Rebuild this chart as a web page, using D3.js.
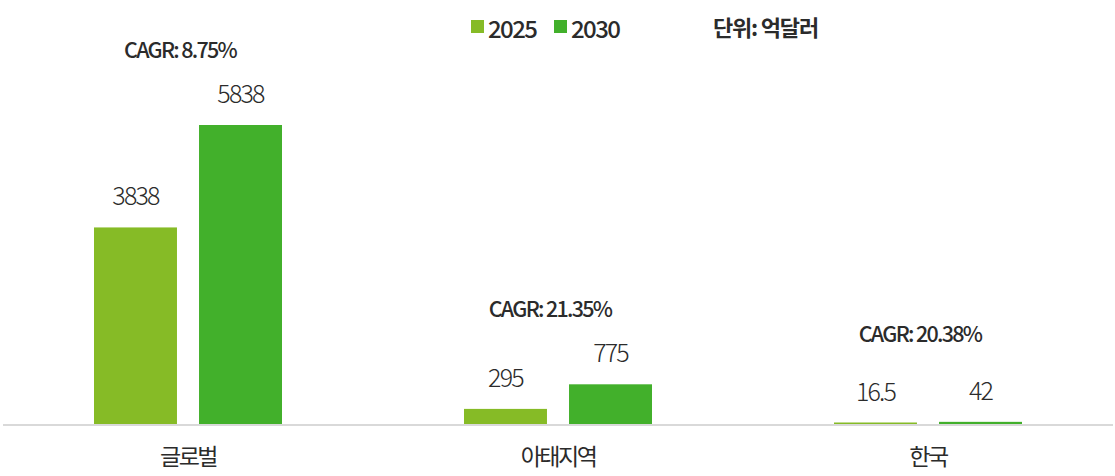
<!DOCTYPE html>
<html>
<head>
<meta charset="utf-8">
<script src="https://cdn.jsdelivr.net/npm/d3@7"></script>
<style>
  body { margin: 0; background: #fff; }
  svg text { font-family: "Noto Sans CJK KR", "Noto Sans", sans-serif; fill: #2b2b2b; }
</style>
</head>
<body>
<svg id="chart"></svg>
<script>
const categories = ["글로벌", "아태지역", "한국"];
const seriesNames = ["2025", "2030"];
const values2025 = [3838, 295, 16.5];
const values2030 = [5838, 775, 42];
const cagrLabels = ["CAGR: 8.75%", "CAGR: 21.35%", "CAGR: 20.38%"];
const unitLabel = "단위: 억달러";
const colors = ["#86bb26", "#42b02b"];

const WIDTH = 1115, HEIGHT = 476;
const MARGIN = { left: 3, right: 2, baseline: 424 };

const svg = d3.select("#chart").attr("width", WIDTH).attr("height", HEIGHT);

// rows built from the arrays
const rows = categories.map((c, i) => ({
  cat: c,
  vals: [values2025[i], values2030[i]],
  cagr: cagrLabels[i],
}));

const x0 = d3.scaleBand().domain(categories).range([MARGIN.left, WIDTH - MARGIN.right]);
const x1 = d3.scaleBand().domain(seriesNames).range([0, 188]).paddingInner(0.21);
const y = d3.scaleLinear().domain([0, 5838]).range([MARGIN.baseline, 125]);

// baseline
svg.append("line")
  .attr("x1", MARGIN.left).attr("x2", WIDTH - MARGIN.right)
  .attr("y1", MARGIN.baseline + 1).attr("y2", MARGIN.baseline + 1)
  .attr("stroke", "#d9d9d9").attr("stroke-width", 2);

const groups = svg.selectAll(".grp")
  .data(rows)
  .enter()
  .append("g")
  .attr("class", "grp")
  .attr("transform", d => `translate(${x0(d.cat) + x0.bandwidth() / 2 - 94},0)`);

// bars
groups.selectAll("rect")
  .data(d => d.vals.map((v, i) => ({ key: seriesNames[i], v: v, i: i })))
  .enter()
  .append("rect")
  .attr("x", d => x1(d.key))
  .attr("width", x1.bandwidth())
  .attr("y", d => Math.min(y(d.v), MARGIN.baseline - 1.5))
  .attr("height", d => Math.max(MARGIN.baseline - y(d.v), 1.5))
  .attr("fill", d => colors[d.i]);

// value labels
groups.selectAll(".val")
  .data(d => d.vals.map((v, i) => ({ key: seriesNames[i], v: v })))
  .enter()
  .append("text")
  .attr("class", "val")
  .attr("x", d => x1(d.key) + x1.bandwidth() / 2)
  .attr("y", d => y(d.v) - 22)
  .attr("text-anchor", "middle")
  .style("font-size", "25px")
  .style("font-weight", 300)
  .style("letter-spacing", "-1.8px")
  .text(d => d.v);

// CAGR labels
groups.append("text")
  .attr("x", 86)
  .attr("y", d => Math.min(y(d3.max(d.vals)) - 67, MARGIN.baseline - 82))
  .attr("text-anchor", "middle")
  .style("font-size", "21.5px")
  .style("font-weight", 500)
  .style("letter-spacing", "-1.7px")
  .text(d => d.cagr);

// category axis labels
svg.append("g")
  .selectAll("text")
  .data(categories)
  .enter()
  .append("text")
  .attr("x", d => x0(d) + x0.bandwidth() / 2)
  .attr("y", 465)
  .attr("text-anchor", "middle")
  .style("font-size", "23px")
  .style("font-weight", 400)
  .style("letter-spacing", "-2.5px")
  .text(d => d);

// legend
const legend = svg.append("g");
const legendX = [471, 554];
seriesNames.forEach((s, i) => {
  legend.append("rect")
    .attr("x", legendX[i]).attr("y", 20)
    .attr("width", 13).attr("height", 13)
    .attr("fill", colors[i]);
  legend.append("text")
    .attr("x", legendX[i] + 17).attr("y", 37.5)
    .style("font-size", "24px")
    .style("font-weight", 500)
    .style("letter-spacing", "-1.6px")
    .text(s);
});

svg.append("text")
  .attr("x", 713).attr("y", 36)
  .style("font-size", "22px")
  .style("font-weight", 700)
  .style("letter-spacing", "-1.2px")
  .text(unitLabel);
</script>
</body>
</html>
